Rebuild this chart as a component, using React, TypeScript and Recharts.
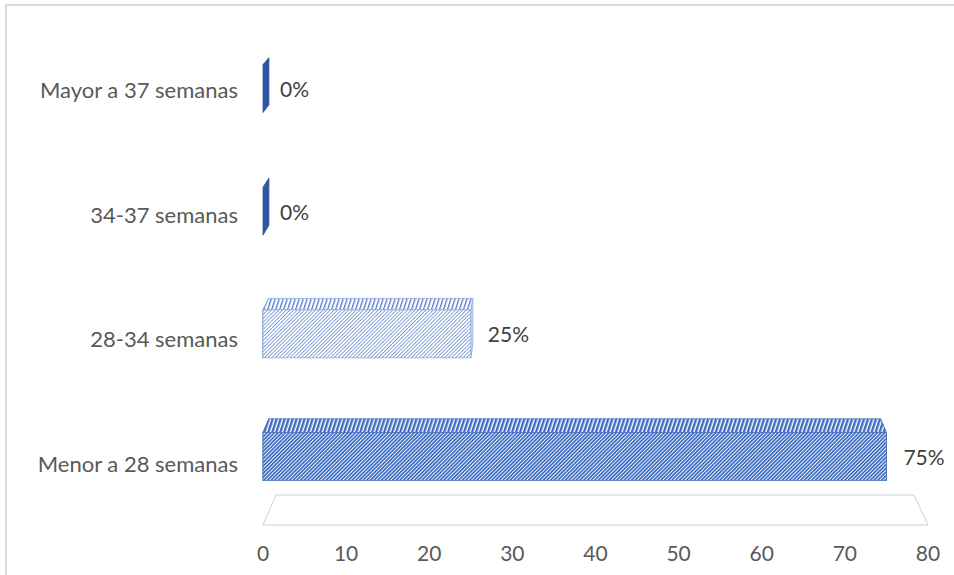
import { BarChart, Bar, XAxis, YAxis, LabelList, ReferenceArea } from 'recharts'

const categories = ['Mayor a 37 semanas', '34-37 semanas', '28-34 semanas', 'Menor a 28 semanas']
const percentages = [0, 0, 25, 75]
const xTicks = [0, 10, 20, 30, 40, 50, 60, 70, 80]

const data = categories.map((label, i) => ({ label, value: percentages[i] }))

const FONT = 'Lato, "Open Sans", sans-serif'
const AXIS_TEXT = '#595959'
const VALUE_TEXT = '#404040'

// simple one-point perspective for the 3D boxes
const VANISH_X = 574
const VANISH_Y = -292
const DEPTH = 0.019
// rows further down are pulled up slightly (camera tilt)
const TILT_ORIGIN = 90
const TILT = 0.0147
const FRONT_SHIFT = -1.5

type Stripe = { bg: string; fg: string; period: number; line: number }

type FaceStyle = {
  fill: string
  stroke: string
  front: Stripe
  top: Stripe
}

const SOLID: FaceStyle = {
  fill: '#2f55a4',
  stroke: '#2f55a4',
  front: { bg: '#2f55a4', fg: '#2f55a4', period: 3, line: 3 },
  top: { bg: '#2f55a4', fg: '#2f55a4', period: 3, line: 3 },
}

const FACE_STYLES: FaceStyle[] = [
  SOLID,
  SOLID,
  {
    fill: '#dbe3f3',
    stroke: '#8faadc',
    front: { bg: '#ffffff', fg: '#6f8fcf', period: 2.6, line: 0.8 },
    top: { bg: '#ffffff', fg: '#4f76c4', period: 3.8, line: 1.3 },
  },
  {
    fill: '#4472c4',
    stroke: '#4a72bf',
    front: { bg: '#ffffff', fg: '#4472c4', period: 2.6, line: 1.8 },
    top: { bg: '#ffffff', fg: '#3f6cc0', period: 3.8, line: 2.4 },
  },
]

const back = (px: number, py: number) => [px + (VANISH_X - px) * DEPTH, py + (VANISH_Y - py) * DEPTH]

const pts = (list: number[][]) => list.map((p) => p.join(',')).join(' ')

// top edge of the front face for a bar slot starting at y
const frontTop = (y: number, height: number) => {
  const c = y + height / 2
  return c - (c - TILT_ORIGIN) * TILT + FRONT_SHIFT - height / 2
}

function Stripes({ id, angle, s }: { id: string; angle: number; s: Stripe }) {
  return (
    <pattern
      id={id}
      width={s.period}
      height={s.period}
      patternUnits="userSpaceOnUse"
      patternTransform={`rotate(${angle})`}
    >
      <rect width={s.period} height={s.period} fill={s.bg} />
      <rect width={s.line} height={s.period} fill={s.fg} />
    </pattern>
  )
}

// eslint-disable-next-line @typescript-eslint/no-explicit-any
function BoxBar(props: any) {
  const { x, y, width, height, index } = props
  const st = FACE_STYLES[index]
  const x0 = x
  const x1 = x + width
  const y0 = frontTop(y, height)
  const y1 = y0 + height
  const frontId = `front-${index}`
  const topId = `top-${index}`

  const left = [[x0, y0], back(x0, y0), back(x0, y1), [x0, y1]]
  const right = [[x1, y0], back(x1, y0), back(x1, y1), [x1, y1]]
  const top = [[x0, y0], [x1, y0], back(x1, y0), back(x0, y0)]

  return (
    <g>
      <defs>
        <Stripes id={frontId} angle={45} s={st.front} />
        <Stripes id={topId} angle={18} s={st.top} />
      </defs>
      <polygon points={pts(left)} fill={SOLID.fill} stroke={SOLID.stroke} strokeWidth={0.8} />
      {width > 0 && (
        <>
          <polygon points={pts(right)} fill={st.fill} stroke={st.stroke} strokeWidth={0.8} />
          <polygon points={pts(top)} fill={`url(#${topId})`} stroke={st.stroke} strokeWidth={0.8} />
          <rect
            x={x0}
            y={y0}
            width={width}
            height={height}
            fill={`url(#${frontId})`}
            stroke={st.stroke}
            strokeWidth={0.8}
          />
        </>
      )}
    </g>
  )
}

// eslint-disable-next-line @typescript-eslint/no-explicit-any
function ValueLabel(props: any) {
  const { x, y, width, height, value } = props
  return (
    <text
      x={x + width + 17}
      y={frontTop(y, height) + height / 2}
      dominantBaseline="central"
      fontFamily={FONT}
      fontSize={21}
      fill={VALUE_TEXT}
    >
      {`${value}%`}
    </text>
  )
}

// floor of the 3D plot, drawn under the bottom of the plot area
// eslint-disable-next-line @typescript-eslint/no-explicit-any
function Floor(props: any) {
  const { x, y, width, height } = props
  const bottom = y + height - 1
  const topY = bottom - 30
  const shape = [
    [x, bottom],
    [x + 13, topY],
    [x + width - 14, topY],
    [x + width, bottom],
  ]
  return <polygon points={pts(shape)} fill="#ffffff" stroke="#d0d0d0" strokeWidth={1} />
}

export default function App() {
  return (
    <div style={{ position: 'relative', width: 954, height: 575, overflow: 'hidden', background: '#fff' }}>
      <style>{'body{margin:0}'}</style>
      <div
        style={{
          position: 'absolute',
          left: 5,
          top: 4,
          width: 1200,
          height: 800,
          border: '2px solid #dadada',
        }}
      />
      <div style={{ position: 'absolute', left: 0, top: 0 }}>
        <BarChart
          width={954}
          height={575}
          data={data}
          layout="vertical"
          margin={{ top: 28, right: 26, bottom: 0, left: 0 }}
        >
          <XAxis
            type="number"
            domain={[0, 80]}
            ticks={xTicks}
            interval={0}
            height={49}
            axisLine={false}
            tickLine={false}
            tickSize={0}
            tickMargin={20}
            tick={{ fontFamily: FONT, fontSize: 21, fill: AXIS_TEXT }}
          />
          <YAxis
            type="category"
            dataKey="label"
            width={263}
            axisLine={false}
            tickLine={false}
            tickSize={0}
            tickMargin={25}
            tick={{ fontFamily: FONT, fontSize: 22, fill: AXIS_TEXT }}
          />
          <ReferenceArea x1={0} x2={80} shape={Floor} fill="none" />
          <Bar dataKey="value" barSize={48} shape={BoxBar} isAnimationActive={false}>
            <LabelList dataKey="value" content={ValueLabel} />
          </Bar>
        </BarChart>
      </div>
    </div>
  )
}
